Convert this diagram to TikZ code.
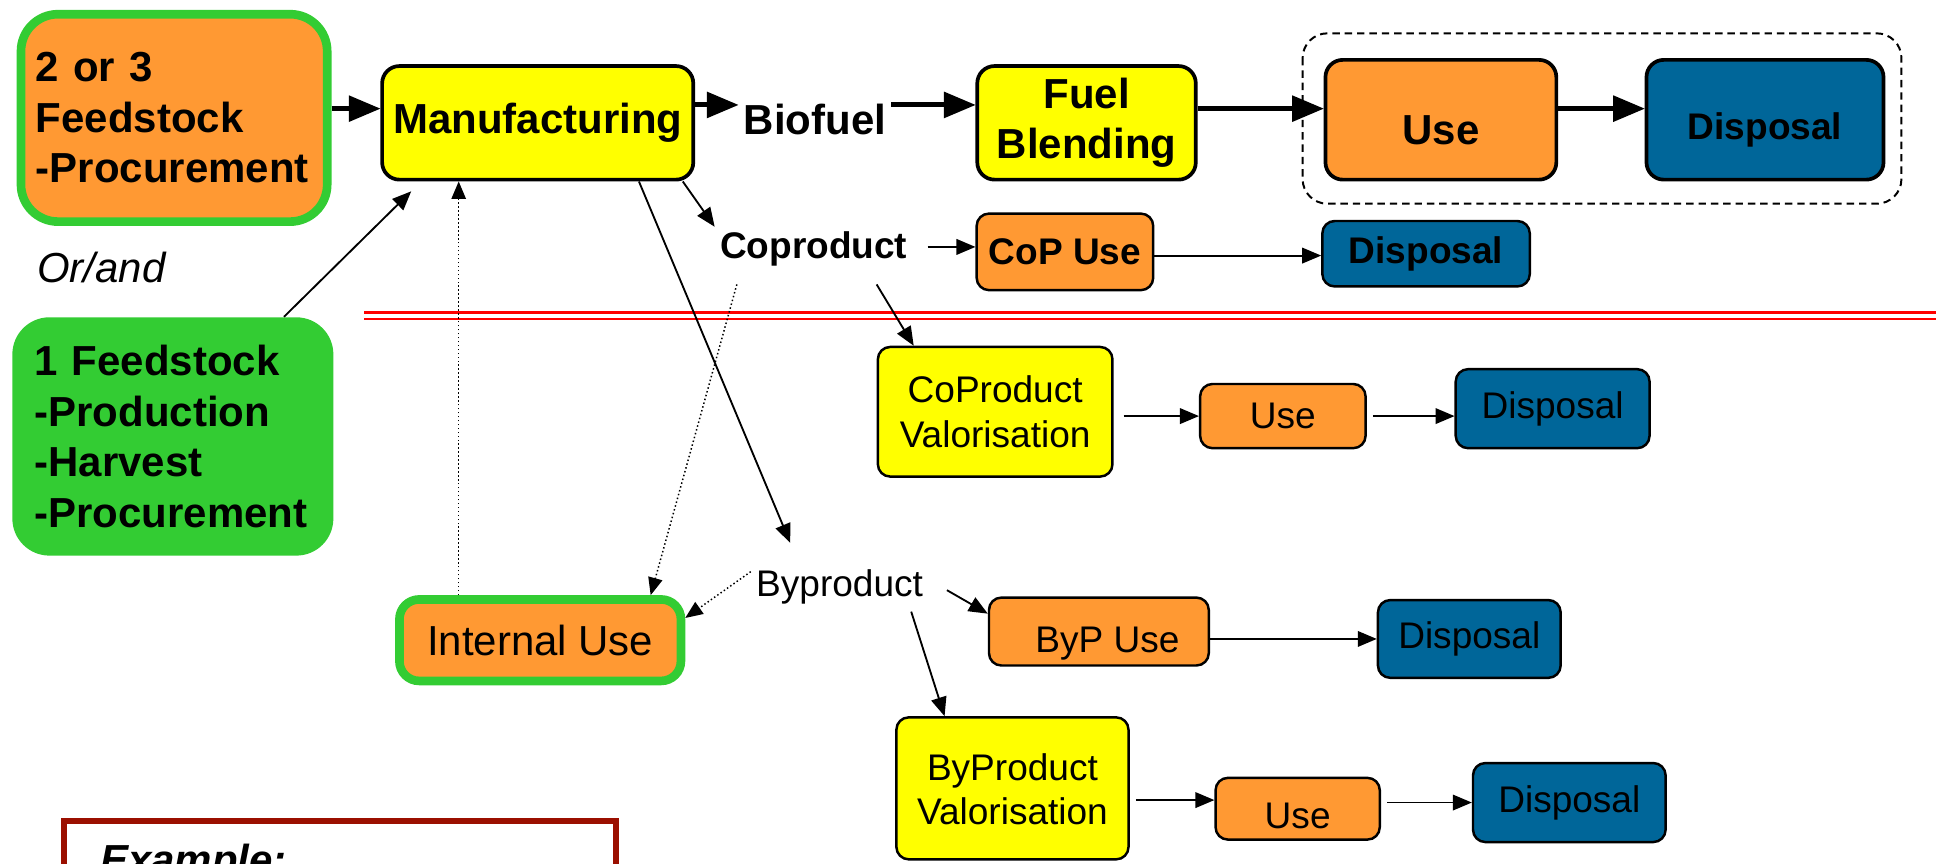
\documentclass[tikz,border=0pt]{standalone}
\usepackage{fontspec}
\setmainfont{Liberation Sans}
\usepackage{tikz}
\usetikzlibrary{shapes,
                arrows,
                calc,
                positioning}
\definecolor{boxorange}{RGB}{255,153,51}
\definecolor{boxblue}{RGB}{0,102,153}
\definecolor{boxgreen}{RGB}{51,204,51}
\definecolor{boxyellow}{RGB}{255,255,0}
\definecolor{exred}{RGB}{155,15,0}
\newcommand{\bigtxt}{\fontsize{17}{20.5}\selectfont}
\newcommand{\smalltxt}{\fontsize{15}{18}\selectfont}
\newcommand{\lowtext}[2]{\raisebox{#1}[0pt][0pt]{#2}}
\tikzstyle{stage} = [rectangle, rounded corners=7pt, draw=black, line width=1.5pt, align=center, inner sep=0pt, font=\bigtxt\bfseries]
\tikzstyle{substage} = [rectangle, rounded corners=5pt, draw=black, line width=1pt, align=center, inner sep=0pt, font=\smalltxt]
\tikzstyle{feedstock} = [rectangle, rounded corners=15pt, align=left, text width=112pt, font=\bigtxt\bfseries]
\tikzstyle{flowtext} = [inner sep=2pt]
\tikzstyle{heavyarrow} = [line width=2pt,->,>=triangle 45]
\tikzstyle{arrow} = [line width=0.75pt,->,>=triangle 45]
\tikzstyle{dotarrow} = [line width=0.6pt,densely dotted,->,>=triangle 45]

\begin{document}
\begin{tikzpicture}[x=0.5pt, y=-0.5pt]
        \useasboundingbox (0,0) rectangle (1568,699);
        \clip (0,0) rectangle (1568,699);
        % feedstock side
        \node (feedA) [feedstock, fill=boxorange, draw=boxgreen, line width=3.5pt, minimum width=124pt, minimum height=84pt] at (141,95.5) {2 or 3\\Feedstock\\-Procurement};
        \node (orand) [flowtext, font=\bigtxt\itshape] at (82,217) {Or/and};
        \node (feedB) [feedstock, fill=boxgreen, minimum width=130pt, minimum height=96.5pt] at (140,353.5) {1 Feedstock\\-Production\\-Harvest\\-Procurement};
        % main chain
        \node (manuf) [stage, fill=boxyellow, minimum width=126pt, minimum height=46pt] at (435.5,99.5) {Manufacturing};
        \node (biofuel) [flowtext, font=\bigtxt\bfseries] at (660,97) {Biofuel};
        \node (blend) [stage, fill=boxyellow, minimum width=88.5pt, minimum height=46pt] at (880,99.5) {Fuel\\Blending};
        \node (use1) [stage, fill=boxorange, minimum width=93.5pt, minimum height=48.5pt] at (1167,97) {\lowtext{-10pt}{Use}};
        \node (disp1) [stage, fill=boxblue, minimum width=96pt, minimum height=48.5pt, font=\smalltxt\bfseries] at (1429.5,97) {\lowtext{-7.9pt}{Disposal}};
        \draw [dashed, line width=0.8pt, dash pattern=on 3pt off 2pt, rounded corners=10pt] (1055,27) rectangle (1540,165);
        % coproduct
        \node (coprod) [flowtext, font=\smalltxt\bfseries] at (659,202) {Coproduct};
        \node (copuse) [substage, fill=boxorange, minimum width=71.5pt, minimum height=31pt, font=\smalltxt\bfseries] at (862.5,204) {CoP Use};
        \node (disp2) [substage, fill=boxblue, minimum width=84pt, minimum height=26.5pt, font=\smalltxt\bfseries] at (1155,205.5) {Disposal};
        \node (cpval) [substage, fill=boxyellow, minimum width=95pt, minimum height=52.5pt] at (806,333.5) {CoProduct\\Valorisation};
        \node (cpuse) [substage, fill=boxorange, minimum width=67pt, minimum height=26pt] at (1039,337) {Use};
        \node (cpdisp) [substage, fill=boxblue, minimum width=78.5pt, minimum height=32pt] at (1257.5,331) {Disposal};
        % byproduct
        \node (byprod) [flowtext, font=\smalltxt] at (680,475) {Byproduct};
        \node (intuse) [rectangle, rounded corners=8pt, fill=boxorange, draw=boxgreen, line width=3.5pt, minimum width=114pt, minimum height=33pt, font=\bigtxt] at (437.5,518.5) {Internal Use};
        \node (bypuse) [substage, fill=boxorange, minimum width=89pt, minimum height=27.5pt] at (890,511.5) {\lowtext{-8.65pt}{\hspace*{7pt}ByP Use}};
        \node (bypdisp) [substage, fill=boxblue, minimum width=74pt, minimum height=31.5pt] at (1190,517.5) {Disposal};
        \node (bpval) [substage, fill=boxyellow, minimum width=94pt, minimum height=57.5pt] at (820,638.5) {\lowtext{-5.75pt}{\begin{tabular}{@{}c@{}}ByProduct\\[-0.5pt]Valorisation\end{tabular}}};
        \node (bpuse) [substage, fill=boxorange, minimum width=66.5pt, minimum height=25pt] at (1051,655) {\lowtext{-7.9pt}{Use}};
        \node (bpdisp) [substage, fill=boxblue, minimum width=78pt, minimum height=32pt] at (1271,650) {Disposal};
        % boundary
        \draw [red, line width=1pt] (295,253) -- (1568,253);
        \draw [red, line width=1pt] (295,258.5) -- (1568,258.5);
        % example
        \draw [exred, line width=2.3pt] (52,665) rectangle (499,760);
        \node (extitle) [anchor=base west, font=\bigtxt\bfseries\itshape] at (74,708) {Example:};
        % connectors
        \draw [heavyarrow] ([yshift=5.75pt]manuf.west -| feedA.east) -- ([yshift=5.75pt]manuf.west);
        \draw [heavyarrow] ([yshift=7.25pt]manuf.east) -- ([yshift=7.25pt]manuf.east -| biofuel.west);
        \draw [heavyarrow] ([yshift=6pt]biofuel.east) -- ([yshift=6pt]biofuel.east -| blend.west);
        \draw [heavyarrow] ([yshift=5.75pt]blend.east) -- ([yshift=5.75pt]blend.east -| use1.west);
        \draw [heavyarrow] ([yshift=4.5pt]use1.east) -- ([yshift=4.5pt]use1.east -| disp1.west);
        \draw [arrow] ([xshift=-5pt]manuf.south east) -- (coprod.north west);
        \draw [arrow, shorten <=6pt] ([yshift=1pt]coprod.east) -- ([yshift=1pt]coprod.east -| copuse.west);
        \draw [arrow] ([yshift=-1.5pt]copuse.east) -- ([yshift=-1.5pt]copuse.east -| disp2.west);
        \draw [arrow] ([xshift=25.5pt,yshift=-5pt]coprod.south) -- ([xshift=15pt]cpval.north west);
        \draw [arrow, shorten <=4pt] (cpval.east |- cpuse.west) -- (cpuse.west);
        \draw [arrow, shorten <=2.5pt] (cpuse.east) -- (cpuse.east -| cpdisp.west);
        \draw [arrow] ([xshift=41pt]manuf.south) -- ([xshift=-20pt,yshift=8.5pt]byprod.north);
        \draw [dotarrow] ([xshift=9pt,yshift=-5pt]coprod.south west) -- ([xshift=-14pt]intuse.north east);
        \draw [dotarrow] ([xshift=-33pt]intuse.north) -- ([xshift=-33pt]intuse.north |- manuf.south);
        \draw [arrow] ([xshift=45pt]feedB.north) -- ([xshift=12.5pt,yshift=-4pt]manuf.south west);
        \draw [dotarrow] ([yshift=6pt]byprod.west) -- ([yshift=9pt]intuse.east);
        \draw [arrow] ([xshift=7.5pt,yshift=-1.5pt]byprod.east) -- ([yshift=-7pt]bypuse.north west);
        \draw [arrow] (bypuse.east |- bypdisp.west) -- (bypdisp.west);
        \draw [arrow] ([xshift=29pt,yshift=-1pt]byprod.south) -- ([xshift=20pt]bpval.north west);
        \draw [arrow, shorten <=2.5pt] ([yshift=-4.75pt]bpval.east) -- ([yshift=-4.75pt]bpval.east -| bpuse.west);
        \draw [arrow, shorten <=2.5pt] (bpuse.east |- bpdisp.west) -- (bpdisp.west);
\end{tikzpicture}
\end{document}
